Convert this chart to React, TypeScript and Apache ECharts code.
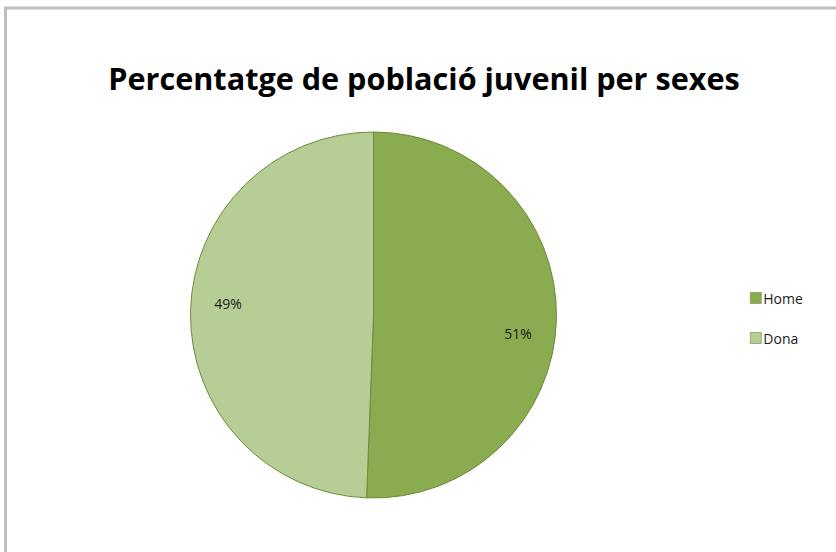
import React, { useEffect, useRef } from "react";
import * as echarts from "echarts";

const titleText = "Percentatge de població juvenil per sexes";
const categories = ["Home", "Dona"];
const values = [50.6, 49.4];
const colors = ["#8aab4f", "#b6cd95"];
const labelShiftX = [-4, 3];
const labelShiftY = [16, -9];

export default function App() {
  const ref = useRef<HTMLDivElement>(null);
  useEffect(() => {
    document.documentElement.style.overflow = "hidden";
    document.body.style.margin = "0";
    const chart = echarts.init(ref.current!, null, { renderer: "svg" });
    const data = categories.map((name, i) => ({
      name,
      value: values[i],
      itemStyle: { color: colors[i] },
    }));
    chart.setOption({
      animation: false,
      backgroundColor: "#ffffff",
      title: {
        text: titleText,
        left: 419,
        textAlign: "center",
        top: 57,
        textStyle: {
          fontFamily: "Open Sans",
          fontWeight: "bold",
          fontSize: 30.6,
          color: "#000000",
        },
      },
      legend: {
        orient: "vertical",
        left: 745,
        top: 286,
        itemWidth: 11,
        itemHeight: 11,
        itemGap: 26,
        itemStyle: { borderColor: "#6f8c3c", borderWidth: 0.6 },
        icon: "rect",
        data: categories.map((name, i) => ({ name, itemStyle: { color: colors[i] } })),
        textStyle: { fontFamily: "Open Sans", fontSize: 14, color: "#1a1a1a", padding: [0, 0, 0, -3] },
      },
      graphic: [
        {
          type: "polyline",
          shape: { points: [[5.5, 700], [5.5, 8], [900, 8]] },
          style: { fill: "none", stroke: "#bfbfbf", lineWidth: 3 },
          silent: true,
          z: 0,
        },
      ],
      series: [
        {
          type: "pie",
          center: [373.5, 315],
          radius: [0, 183],
          startAngle: 90,
          clockwise: true,
          label: { show: false },
          labelLine: { show: false },
          itemStyle: { borderColor: "#6f8c3c", borderWidth: 1 },
          emphasis: { disabled: true },
          data,
        },
        {
          type: "pie",
          center: [373.5, 315],
          radius: [108, 183],
          startAngle: 90,
          clockwise: true,
          silent: true,
          itemStyle: { opacity: 0 },
          label: {
            show: true,
            position: "inside",
            formatter: (p: any) => Math.round(p.value) + "%",
            fontFamily: "Open Sans",
            fontSize: 14,
            color: "#1a1a1a",
            opacity: 1,
          },
          labelLayout: (p: any) => ({ dx: labelShiftX[p.dataIndex], dy: labelShiftY[p.dataIndex] }),
          labelLine: { show: false },
          emphasis: { disabled: true },
          data: categories.map((name, i) => ({ name, value: values[i] })),
        },
      ],
    });
    return () => chart.dispose();
  }, []);
  return (
    <div
      ref={ref}
      style={{ position: "fixed", left: 0, top: 0, width: 836, height: 552 }}
    />
  );
}
